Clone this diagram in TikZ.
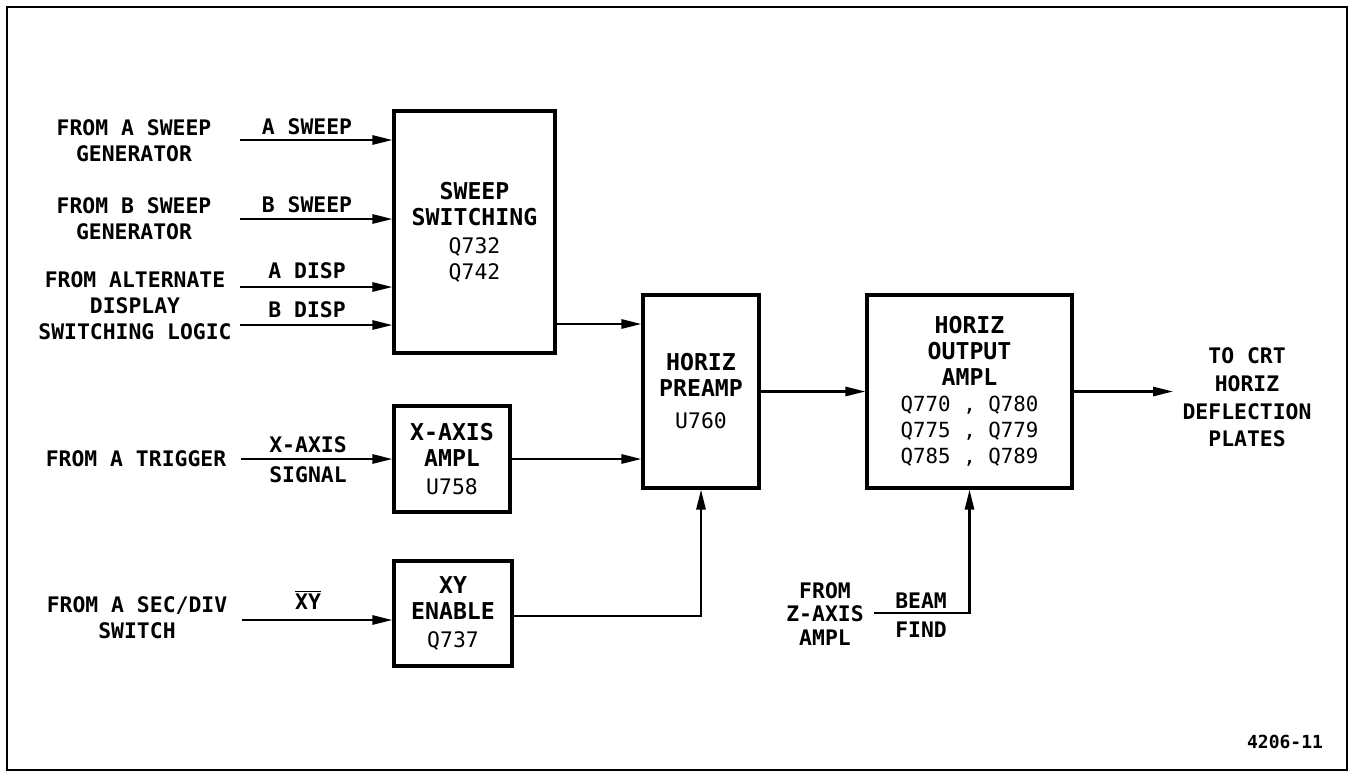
\documentclass[tikz,border=0pt]{standalone}
\usepackage{fontspec}
\setmainfont{DejaVu Sans Mono}
\usetikzlibrary{arrows.meta}
\newcommand\ttlf{\fontsize{11.6}{14}\selectfont\bfseries}
\newcommand\ptf{\fontsize{10.7}{13}\selectfont\mdseries}
\newcommand\qf{\fontsize{10.4}{13.8}\selectfont\mdseries}
\begin{document}
\begin{tikzpicture}[x=0.5pt,y=-0.5pt,
  lbl/.style={font=\fontsize{10.7}{13}\selectfont\bfseries, align=center, inner sep=0pt},
  blk/.style={draw, line width=1.6pt, align=center, inner sep=0pt, font=\fontsize{10.7}{13}\selectfont},
  wire/.style={line width=1.1pt},
  arr/.style={wire, -{Triangle[length=10pt,width=4.6pt]}}
]
\useasboundingbox (0,0) rectangle (1352,773);
\draw[line width=1pt] (7,7) rectangle (1347,770);

% blocks
\node[blk, minimum width=80.5pt, minimum height=121pt] (sw) at (474.5,232)
  {\ttlf SWEEP\\\ttlf SWITCHING\\[1pt]\ptf Q732\\\ptf Q742};
\node[blk, minimum width=58pt, minimum height=53pt] (xa) at (452,459)
  {\ttlf X-AXIS\\\ttlf AMPL\\[1pt]\ptf U758};
\node[blk, minimum width=59pt, minimum height=52.5pt] (xy) at (453,613.5)
  {\ttlf XY\\\ttlf ENABLE\\[1pt]\ptf Q737};
\node[blk, minimum width=58pt, minimum height=96.5pt] (pre) at (701,391.5)
  {\ttlf HORIZ\\\ttlf PREAMP\\[3pt]\ptf U760};
\node[blk, minimum width=102.5pt, minimum height=96.5pt] (out) at (969.5,391.5)
  {\ttlf HORIZ\\\ttlf OUTPUT\\\ttlf AMPL\\\qf Q770 , Q780\\\qf Q775 , Q779\\\qf Q785 , Q789};

% source labels
\node[lbl] (la) at (134,141) {FROM A SWEEP\\GENERATOR};
\node[lbl] (lb) at (134,218.5) {FROM B SWEEP\\GENERATOR};
\node[lbl] (lc) at (135,306) {FROM ALTERNATE\\DISPLAY\\SWITCHING LOGIC};
\node[lbl] (ld) at (136,459) {FROM A TRIGGER};
\node[lbl] (le) at (137,617.5) {FROM A SEC/DIV\\SWITCH};
\node[lbl] (lz) at (825,614) [font=\fontsize{10.7}{11.8}\selectfont\bfseries] {FROM\\Z-AXIS\\AMPL};
\node[lbl] (lcrt) at (1247,397.5) [font=\fontsize{10.7}{13.8}\selectfont\bfseries] {TO CRT\\HORIZ\\DEFLECTION\\PLATES};

% wire labels
\node[lbl] (wa) at (307,127) {A SWEEP};
\node[lbl] (wb) at (307,205) {B SWEEP};
\node[lbl] (wc) at (307,271) {A DISP};
\node[lbl] (wd) at (307,310) {B DISP};
\node[lbl] (we) at (308,445) {X-AXIS};
\node[lbl] (wf) at (308,475) {SIGNAL};
\node[lbl] (wg) at (308,600) {$\overline{\mbox{\bfseries XY}}$};
\node[lbl] (wh) at (921,601) {BEAM};
\node[lbl] (wi) at (921,630) {FIND};
\node[lbl] (fig) at (1285,742) [font=\fontsize{9}{11}\selectfont\bfseries] {4206-11};

% connectors
\coordinate (ia) at (240,140);
\coordinate (ib) at (240,219);
\coordinate (ic) at (240,287);
\coordinate (id) at (240,325);
\draw[arr] (ia) -- (ia -| sw.west);
\draw[arr] (ib) -- (ib -| sw.west);
\draw[arr] (ic) -- (ic -| sw.west);
\draw[arr] (id) -- (id -| sw.west);

\coordinate (swo) at (0,324);
\draw[arr] (sw.east |- swo) -- (pre.west |- swo);

\coordinate (it) at (241,459);
\draw[arr] (it) -- (xa.west);
\draw[arr] (xa.east) -- (xa.east -| pre.west);

\coordinate (iy) at (242,620);
\draw[arr] (iy) -- (iy -| xy.west);
\coordinate (xyo) at (0,616);
\draw[arr] (xy.east |- xyo) -| (pre.south);

\draw[arr] (pre.east) -- (out.west);
\coordinate (crt) at (1173,391.5);
\draw[arr] (out.east) -- (crt);

\coordinate (bf) at (874,613);
\draw[arr] (bf) -| (out.south);
\end{tikzpicture}
\end{document}
